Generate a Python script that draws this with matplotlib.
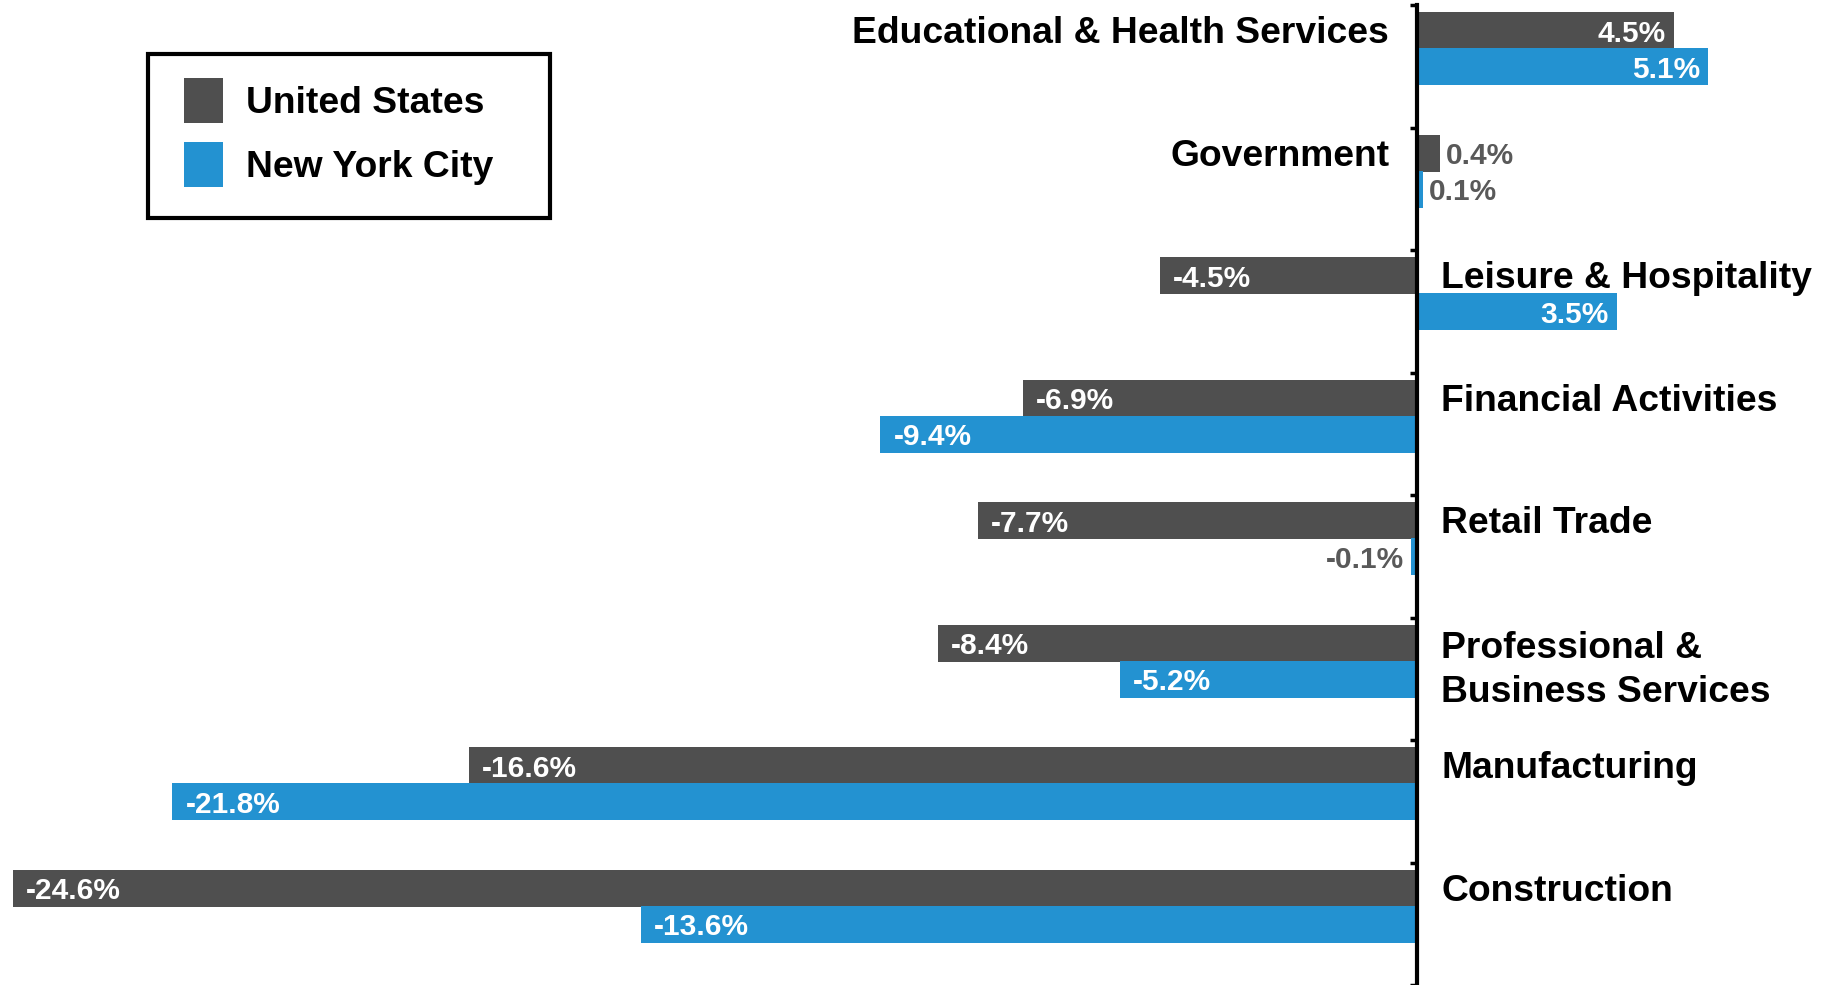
import matplotlib
matplotlib.use("Agg")
import matplotlib.pyplot as plt
from matplotlib.patches import Patch, Rectangle
import numpy as np

plt.rcParams['font.family'] = ['Liberation Sans', 'DejaVu Sans']

categories = ["Educational & Health Services", "Government", "Leisure & Hospitality",
              "Financial Activities", "Retail Trade", "Professional &\nBusiness Services",
              "Manufacturing", "Construction"]
us_values = [4.5, 0.4, -4.5, -6.9, -7.7, -8.4, -16.6, -24.6]
nyc_values = [5.1, 0.1, 3.5, -9.4, -0.1, -5.2, -21.8, -13.6]
series_names = ["United States", "New York City"]

US_COLOR = "#4f4f4f"
NYC_COLOR = "#2392d1"
OUT_COLOR = "#595959"

W, H = 1826, 985
fig = plt.figure(figsize=(W / 100, H / 100), dpi=100)
ax = fig.add_axes([0, 0, 1, 980 / 985])

n = len(categories)
y = np.arange(n)
bh = 0.30
us_y = y - 0.29
nyc_y = y + 0.005

ax.barh(us_y, us_values, height=bh, color=US_COLOR, label=series_names[0])
ax.barh(nyc_y, nyc_values, height=bh, color=NYC_COLOR, label=series_names[1])

ax.set_xlim(-24.82, 7.16)
ax.set_ylim(n - 0.5, -0.5)

for side in ['top', 'right', 'bottom']:
    ax.spines[side].set_visible(False)
ax.spines['left'].set_position(('data', 0))
ax.spines['left'].set_linewidth(3)
ax.set_xticks([])
ax.set_yticks(np.arange(-0.5, n, 1.0))
ax.set_yticklabels([])
ax.tick_params(axis='y', direction='out', length=5, width=2.5, color='black')

px = 1.0 / 57.1  # data units per pixel (approx)
dy = 0.025       # small downward text shift
VFS = 21.5


def value_labels(vals, ys):
    for v, yy in zip(vals, ys):
        txt = f"{v:.1f}%"
        yy = yy + dy
        if abs(v) >= 1.0:
            if v > 0:
                ax.text(v - 8 * px, yy, txt, ha='right', va='center', color='white',
                        fontsize=VFS, fontweight='bold')
            else:
                ax.text(v + 13 * px, yy, txt, ha='left', va='center', color='white',
                        fontsize=VFS, fontweight='bold')
        else:
            if v >= 0:
                ax.text(v + 6 * px, yy, txt, ha='left', va='center', color=OUT_COLOR,
                        fontsize=VFS, fontweight='bold')
            else:
                ax.text(v - 7 * px, yy, txt, ha='right', va='center', color=OUT_COLOR,
                        fontsize=VFS, fontweight='bold')


value_labels(us_values, us_y)
value_labels(nyc_values, nyc_y)

for cat, v, yy in zip(categories, us_values, us_y):
    nlines = cat.count("\n") + 1
    yc = yy + dy + (nlines - 1) * 0.2
    if v >= 0:
        ax.text(-28 * px, yc, cat, ha='right', va='center', fontsize=26.8,
                fontweight='bold', color='black', linespacing=1.32)
    else:
        ax.text(24 * px, yc, cat, ha='left', va='center', fontsize=26.8,
                fontweight='bold', color='black', linespacing=1.32)

# legend frame
fig.patches.append(Rectangle((148 / W, 1 - 218 / H), (550 - 148) / W, (218 - 54) / H,
                             transform=fig.transFigure, facecolor='white',
                             edgecolor='black', linewidth=3, zorder=5))

handles = [Patch(facecolor=US_COLOR, edgecolor='none'),
           Patch(facecolor=NYC_COLOR, edgecolor='none')]
leg = fig.legend(handles, series_names, loc='upper left',
                 bbox_to_anchor=(184 / W, 1 - 78 / H),
                 prop={'size': 26.8, 'weight': 'bold'},
                 handlelength=1.05, handleheight=1.5, handletextpad=0.62,
                 labelspacing=0.5, borderpad=0, borderaxespad=0,
                 frameon=False)
leg.set_zorder(6)

fig.savefig("out.png", dpi=100)
